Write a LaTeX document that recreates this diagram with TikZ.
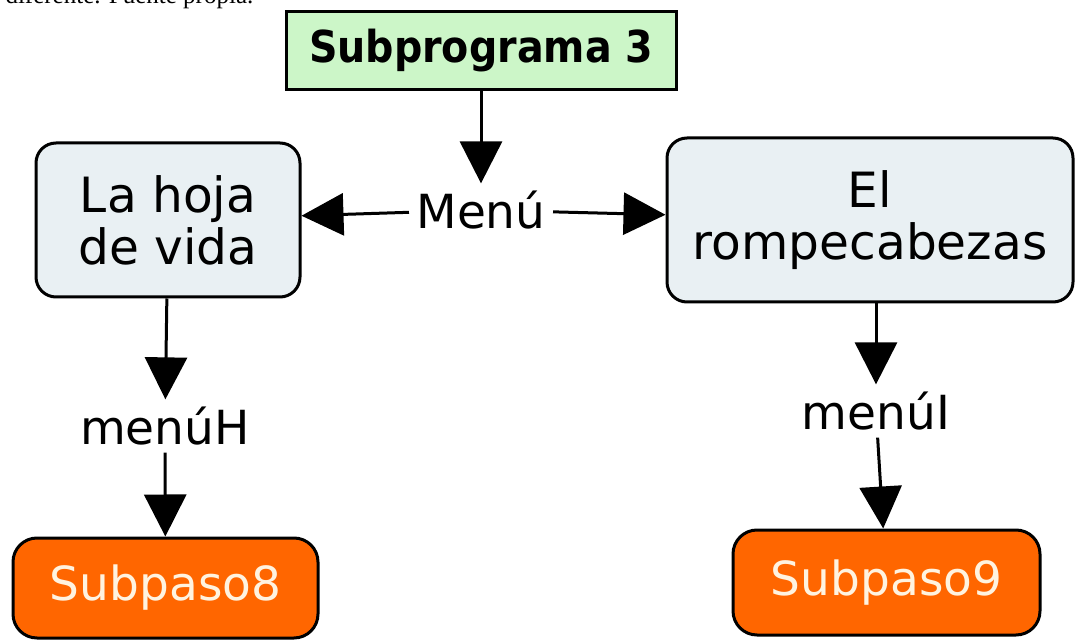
\documentclass[tikz,border=0pt]{standalone}
\usepackage{fontspec}
\setmainfont{DejaVu Sans}
\newfontfamily\titlefont{DejaVu Sans Condensed}
\newfontfamily\notefont{Liberation Serif}
\usepackage{tikz}
\usetikzlibrary{arrows.meta}
\definecolor{titlegreen}{RGB}{204,246,200}
\definecolor{boxgray}{RGB}{233,240,243}
\definecolor{pasoorange}{RGB}{255,102,0}
\definecolor{pasotext}{RGB}{255,243,224}
\tikzset{->,>={Triangle[width=21pt,length=21pt]},
titlebox/.style={draw, fill=titlegreen, minimum width=195pt, minimum height=39pt,
  font=\titlefont\bfseries\fontsize{22}{26}\selectfont},
concept/.style={draw, fill=boxgray, rounded corners=10pt, align=center,
  font=\fontsize{24.3}{26}\selectfont},
paso/.style={draw, fill=pasoorange, text=pasotext, rounded corners=12pt,
  font=\fontsize{23.5}{26}\selectfont},
link/.style={inner sep=3pt, font=\fontsize{23.5}{26}\selectfont}}

\begin{document}
\begin{tikzpicture}[x=0.5pt,y=-0.5pt,line width=1.5pt]
\useasboundingbox (0,0) rectangle (1076,641);
\clip (0,0) rectangle (1076,641);
% caption line of the page above, cut by the frame
\node[anchor=base west, inner sep=0pt, font=\notefont\fontsize{12.5}{13}\selectfont] (nota) at (4,4) {diferente. Fuente propia.};

\node[titlebox] (sub3) at (481,51) {Subprograma 3};
\node[link] (menu) at (481,210) {Menú};
\node[concept, minimum width=132pt, minimum height=77pt] (hoja) at (168,220) {La hoja\\de vida};
\node[concept, minimum width=203pt, minimum height=82pt] (rompe) at (870,220) {El\\rompecabezas};
\node[link] (menuH) at (165,426) {menúH};
\node[link] (menuI) at (876,411) {menúI};
\node[paso, minimum width=152.5pt, minimum height=50pt] (paso8) at (165.5,588) {Subpaso8};
\node[paso, minimum width=153.5pt, minimum height=52.5pt] (paso9) at (886.5,582.5) {Subpaso9};

\draw (sub3) -- (menu);
\draw (menu) -- (hoja);
\draw (menu) -- (rompe);
\draw (hoja) -- (menuH);
\draw (menuH) -- (paso8);
\draw (rompe.south -| menuI) -- (menuI);
\draw (menuI) -- (paso9);
\end{tikzpicture}
\end{document}
